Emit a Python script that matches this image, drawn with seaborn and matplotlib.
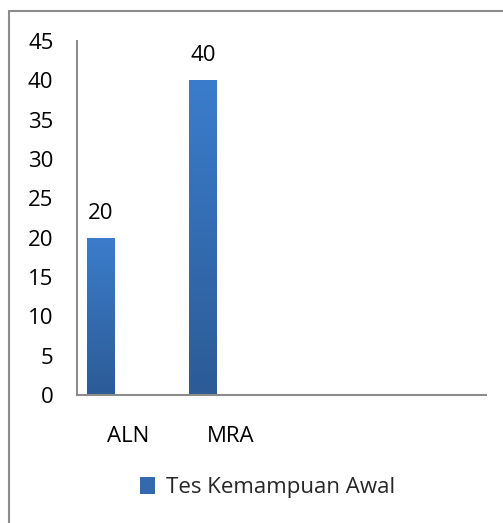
import numpy as np
import pandas as pd
import matplotlib
matplotlib.use("Agg")
import matplotlib.pyplot as plt
from matplotlib.patches import Patch, Rectangle
from matplotlib.colors import LinearSegmentedColormap
import seaborn as sns

# ---- data ----
categories = ["ALN", "MRA", "C3", "C4"]
tick_labels = ["ALN", "MRA", "", ""]
data_categories = ["ALN", "MRA"]
values = [20, 40]
series_name = "Tes Kemampuan Awal"
series_levels = [series_name, "Seri 2", "Seri 3"]
yticks = [0, 5, 10, 15, 20, 25, 30, 35, 40, 45]

df = pd.DataFrame({"cat": data_categories, "val": values,
                   "series": [series_name] * len(values)})

sns.set_theme(style="white")
plt.rcParams["font.family"] = ["Open Sans", "DejaVu Sans"]
FS = 16

fig = plt.figure(figsize=(5.03, 5.23), dpi=100)
ax = fig.add_axes([0.1531, 0.2447, 0.9662 - 0.1531, 0.9216 - 0.2447])

top_c = "#3B7DCC"
bot_c = "#2C5B96"
palette = {series_levels[0]: "#3570B8", series_levels[1]: "#C0504D", series_levels[2]: "#9BBB59"}
sns.barplot(data=df, x="cat", y="val", hue="series", order=categories,
            hue_order=series_levels, palette=palette, width=0.8, dodge=True,
            legend=False, errorbar=None, ax=ax, saturation=1)

ax.set_ylim(0, 45)
ax.set_xlim(-0.5, len(categories) - 0.5)
ax.set_yticks(yticks)
ax.set_yticklabels([str(t) for t in yticks], fontsize=FS, color="#000000")
ax.set_xticks(range(len(categories)))
ax.set_xticklabels(tick_labels, fontsize=FS, color="#000000")
ax.tick_params(axis="y", length=0, pad=17)
ax.tick_params(axis="x", length=0, pad=22)
ax.set_xlabel("")
ax.set_ylabel("")
for s in ["top", "right"]:
    ax.spines[s].set_visible(False)
for s in ["left", "bottom"]:
    ax.spines[s].set_color("#8C8C8C")
    ax.spines[s].set_linewidth(1.5)

# gradient fill + data labels for bars
cmap = LinearSegmentedColormap.from_list("g", [bot_c, top_c])
grad = np.linspace(0, 1, 256).reshape(-1, 1)
for p in ax.patches:
    h = p.get_height()
    if not np.isfinite(h) or h == 0:
        continue
    x0, w = p.get_x(), p.get_width()
    p.set_facecolor("none")
    p.set_edgecolor("none")
    im = ax.imshow(grad, extent=[x0, x0 + w, 0, h], origin="lower", cmap=cmap,
                   aspect="auto", zorder=2)
    im.set_clip_path(p)
    ax.annotate(f"{h:g}", (x0 + w / 2, h), xytext=(0, 10), textcoords="offset points",
                ha="center", va="bottom", fontsize=FS, color="#000000")
ax.set_xlim(-0.5, len(categories) - 0.5)
ax.set_ylim(0, 45)

# legend (only first series)
handle = Patch(facecolor="#3469AE", edgecolor="none")
fig.legend([handle], [series_name], loc="center", bbox_to_anchor=(0.532, 0.068),
           frameon=False, fontsize=FS, handlelength=0.7, handleheight=0.8,
           handletextpad=0.5)

# chart border
fig.patches.append(Rectangle((8.5 / 503, -0.1), 1.2, (1 - 11.5 / 523) + 0.1,
                             transform=fig.transFigure, fill=False,
                             edgecolor="#8C8C8C", linewidth=1.5))

fig.savefig("out.png", dpi=100)
